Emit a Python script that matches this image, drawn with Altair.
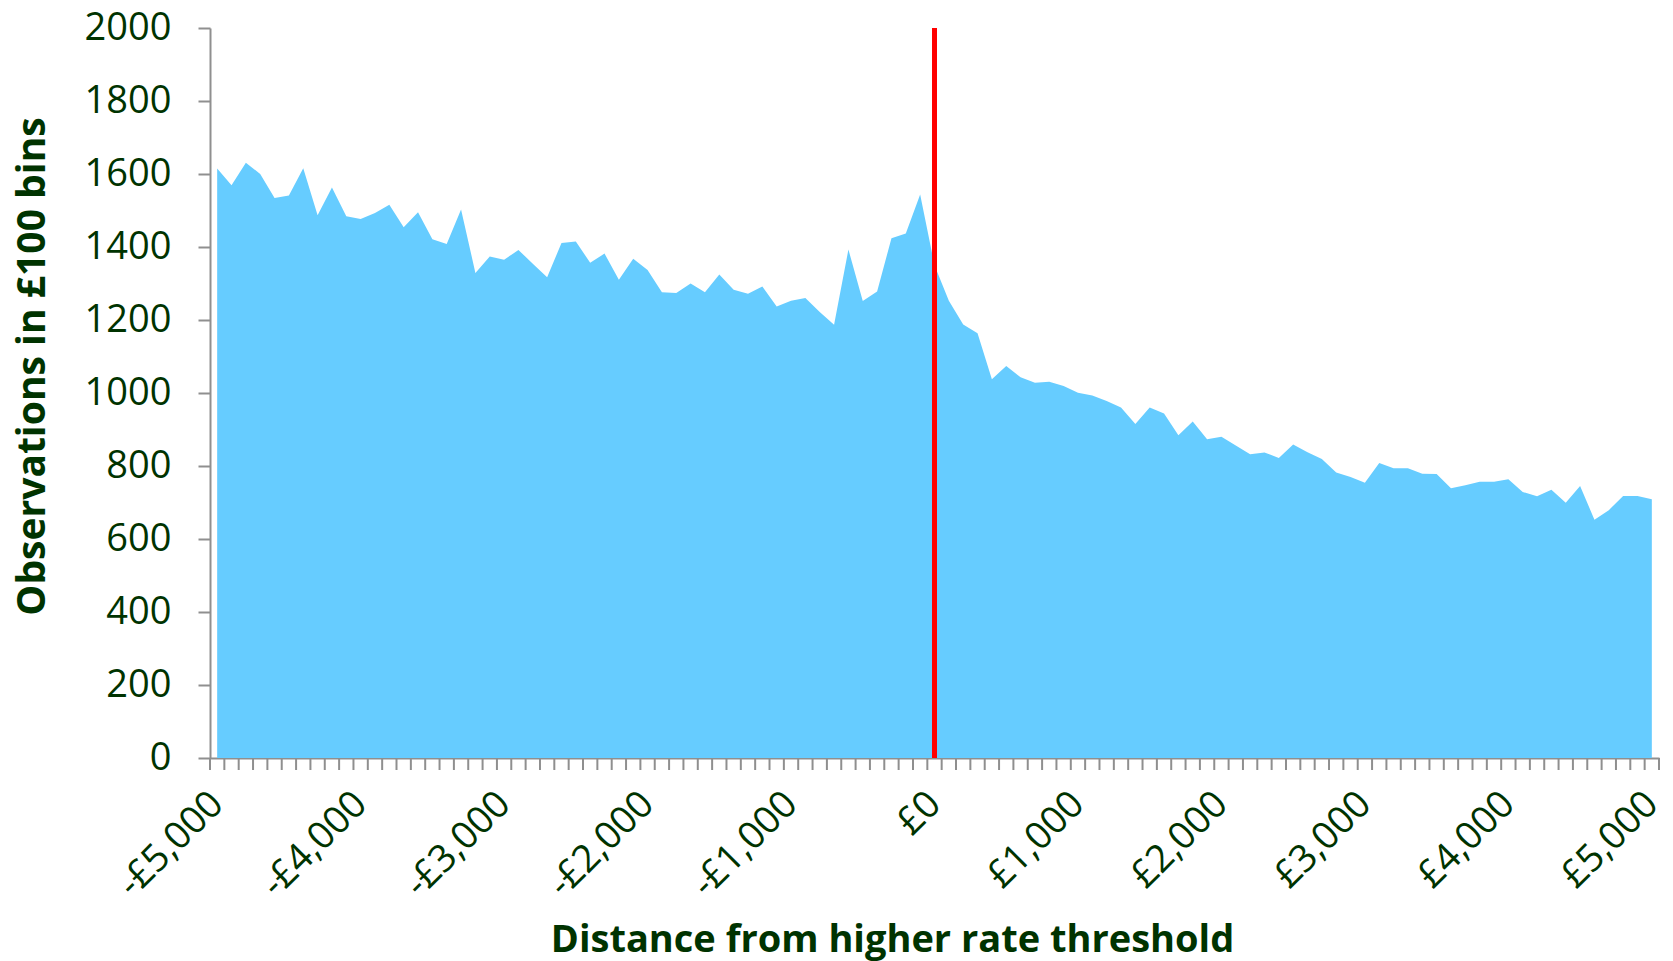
import altair as alt
import pandas as pd

# Distance from threshold (bin centres, £100 bins)
distance = list(range(-5000, 5001, 100))

observations = [
    1615, 1569, 1631, 1600, 1534, 1541, 1616, 1487, 1563, 1484,
    1477, 1493, 1516, 1454, 1495, 1421, 1408, 1503, 1329, 1374,
    1365, 1392, 1354, 1317, 1411, 1415, 1357, 1382, 1310, 1368,
    1337, 1276, 1274, 1300, 1276, 1325, 1283, 1272, 1292, 1237,
    1253, 1260, 1222, 1187, 1393, 1252, 1278, 1424, 1437, 1544,
    1350, 1253, 1188, 1164, 1038, 1074, 1043, 1028, 1031, 1019,
    1001, 993, 978, 960, 915, 960, 944, 884, 922, 873,
    880, 856, 832, 837, 822, 859, 838, 819, 782, 770,
    754, 808, 794, 794, 779, 778, 739, 747, 757, 757,
    764, 729, 717, 735, 699, 745, 653, 679, 718, 718,
    709,
]

x_label_values = [-5000, -4000, -3000, -2000, -1000, 0, 1000, 2000, 3000, 4000, 5000]
y_tick_values = [0, 200, 400, 600, 800, 1000, 1200, 1400, 1600, 1800, 2000]
bin_edges = [d - 50 for d in distance] + [distance[-1] + 50]
threshold = [0]

df = pd.DataFrame({"distance": distance, "obs": observations})
edges_df = pd.DataFrame({"edge": bin_edges})
thr_df = pd.DataFrame({"x": threshold, "y0": [0], "y1": [2000]})

TEXT = "#003300"
AXIS_GREY = "#8f8f8f"
FONT = "Open Sans"
W, H = 1449, 730

x_scale = alt.Scale(domain=[-5050, 5050], nice=False, zero=False)
y_scale = alt.Scale(domain=[0, 2000], nice=False)

area = alt.Chart(df).mark_area(color="#66CCFF", opacity=1, interpolate="linear").encode(
    x=alt.X(
        "distance:Q",
        scale=x_scale,
        axis=alt.Axis(
            values=x_label_values,
            ticks=False,
            tickSize=0,
            labelAngle=-45,
            labelAlign="right",
            labelBaseline="middle",
            labelPadding=40,
            labelFontSize=38,
            labelFont=FONT,
            labelColor=TEXT,
            labelExpr="(datum.value < 0 ? '-' : '') + '£' + format(abs(datum.value), ',')",
            domainColor=AXIS_GREY,
            domainWidth=2,
            grid=False,
            title="Distance from higher rate threshold",
            titleFont=FONT,
            titleFontSize=38,
            titleFontWeight="bold",
            titleColor=TEXT,
            titleX=682,
            titleY=182,
            titleAlign="center",
            titleBaseline="middle",
        ),
    ),
    y=alt.Y(
        "obs:Q",
        scale=y_scale,
        axis=alt.Axis(
            values=y_tick_values,
            format="d",
            tickSize=12,
            tickColor=AXIS_GREY,
            tickWidth=2,
            labelPadding=27,
            labelFontSize=38,
            labelFont=FONT,
            labelColor=TEXT,
            domainColor=AXIS_GREY,
            domainWidth=2,
            grid=False,
            title="Observations in £100 bins",
            titleFont=FONT,
            titleFontSize=39,
            titleFontWeight="bold",
            titleColor=TEXT,
            titleAngle=-90,
            titleX=-178,
            titleY=338,
            titleAlign="center",
            titleBaseline="middle",
        ),
    ),
)

minor_ticks = alt.Chart(edges_df).mark_rule(color=AXIS_GREY, strokeWidth=2, clip=False).encode(
    x=alt.X("edge:Q", scale=x_scale),
    y=alt.value(H),
    y2=alt.value(H + 12),
)

red_line = alt.Chart(thr_df).mark_rule(color="#FF0000", strokeWidth=5).encode(
    x=alt.X("x:Q", scale=x_scale),
    y=alt.Y("y0:Q", scale=y_scale),
    y2="y1:Q",
)

chart = (
    alt.layer(area, minor_ticks, red_line)
    .properties(
        width=W,
        height=H,
        autosize=alt.AutoSizeParams(type="none"),
        padding={"left": 210, "top": 28, "right": 14, "bottom": 203},
        background="white",
    )
    .configure_view(stroke=None)
)

chart.save("out.html", embed_options={"renderer": "svg", "actions": False})
